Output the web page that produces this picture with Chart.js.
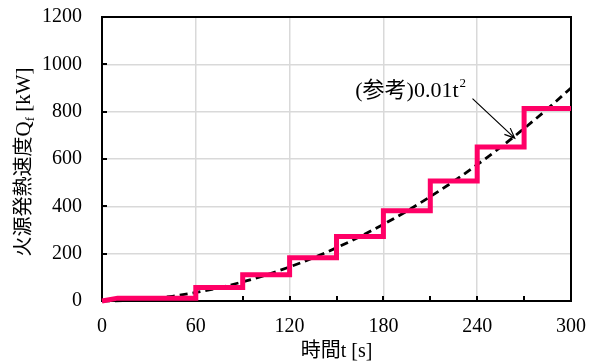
<!DOCTYPE html>
<html>
<head>
<meta charset="utf-8">
<script src="https://cdn.jsdelivr.net/npm/chart.js@4/dist/chart.umd.min.js"></script>
<style>
  html, body { margin: 0; padding: 0; background: #fff; }
  #wrap { width: 600px; height: 363px; }
</style>
</head>
<body>
<div id="wrap"><canvas id="heatChart" width="600" height="363"></canvas></div>
<script>
        // step input (火源発熱速度)
        const stepT = [0, 10, 60, 60, 90, 90, 120, 120, 150, 150, 180, 180, 210, 210, 240, 240, 270, 270, 300];
        const stepQ = [0, 12, 12, 57, 57, 111, 111, 183, 183, 273, 273, 381, 381, 507, 507, 651, 651, 813, 813];

        const refT = [0, 15, 30, 45, 60, 75, 90, 105, 120, 135, 150, 165, 180, 195, 210, 225, 240, 255, 270, 285, 300];
        const refQ = [0, 2, 9, 20, 36, 56, 81, 110, 144, 182, 225, 272, 324, 380, 441, 506, 576, 650, 729, 812, 900];

        const xTicks = [0, 60, 120, 180, 240, 300];
        const xMinorTicks = [30, 90, 150, 210, 270];
        const yTicks = [0, 200, 400, 600, 800, 1000, 1200];

        const serif = '"Liberation Serif", "Noto Sans CJK JP", serif';
        const jp = '"Noto Sans CJK JP", "Liberation Serif", sans-serif';

        const boxAndLabels = {
            id: 'boxAndLabels',
            beforeDatasetsDraw(chart) {
                const ctx = chart.ctx;
                const a = chart.chartArea;
                const xs = chart.scales.x;
                const ys = chart.scales.y;
                ctx.save();
                ctx.strokeStyle = '#000';
                ctx.lineWidth = 2;
                // inward ticks
                ctx.beginPath();
                xTicks.concat(xMinorTicks).forEach(v => {
                    const px = Math.round(xs.getPixelForValue(v));
                    ctx.moveTo(px, a.bottom);
                    ctx.lineTo(px, a.bottom - 5);
                });
                yTicks.forEach(v => {
                    const py = Math.round(ys.getPixelForValue(v));
                    ctx.moveTo(a.left, py);
                    ctx.lineTo(a.left + 5, py);
                });
                ctx.stroke();
                // frame
                ctx.strokeRect(a.left, a.top, a.right - a.left, a.bottom - a.top);
                ctx.restore();
            },
            afterDraw(chart) {
                const ctx = chart.ctx;
                const a = chart.chartArea;
                const xs = chart.scales.x;
                const ys = chart.scales.y;
                ctx.save();
                ctx.fillStyle = '#000';
                ctx.textBaseline = 'alphabetic';

                // x title
                ctx.textAlign = 'center';
                ctx.font = '20px ' + serif;
                ctx.fillText('時間t [s]', (a.left + a.right) / 2, 357);

                // y title with subscript
                ctx.save();
                ctx.translate(30, 162);
                ctx.rotate(-Math.PI / 2);
                ctx.textAlign = 'left';
                const p1 = '火源発熱速度';
                const p2 = 'Q';
                const p3 = ' [kW]';
                ctx.font = '20px ' + jp;
                const w1 = ctx.measureText(p1).width;
                ctx.font = '21px ' + serif;
                const w2 = ctx.measureText(p2).width;
                const w3 = ctx.measureText(p3).width;
                ctx.font = '13px ' + serif;
                const wf = ctx.measureText('f').width;
                let x0 = -(w1 + w2 + wf + w3) / 2;
                ctx.font = '20px ' + jp;
                ctx.fillText(p1, x0, 0);
                x0 += w1;
                ctx.font = '21px ' + serif;
                ctx.fillText(p2, x0, 0);
                x0 += w2;
                ctx.font = '13px ' + serif;
                ctx.fillText('f', x0, 4);
                x0 += wf;
                ctx.font = '21px ' + serif;
                ctx.fillText(p3, x0, 0);
                ctx.restore();

                // annotation
                const tx = xs.getPixelForValue(162);
                const ty = ys.getPixelForValue(860);
                ctx.textAlign = 'left';
                ctx.font = '22px ' + serif;
                ctx.fillText('(参考)0.01t', tx, ty);
                const tw = ctx.measureText('(参考)0.01t').width;
                ctx.font = '13px ' + serif;
                ctx.fillText('2', tx + tw + 1, ty - 10);

                const sx = xs.getPixelForValue(237), sy = ys.getPixelForValue(855);
                const ex = xs.getPixelForValue(264), ey = ys.getPixelForValue(688);
                ctx.strokeStyle = '#000';
                ctx.lineWidth = 1.2;
                ctx.beginPath();
                ctx.moveTo(sx, sy);
                ctx.lineTo(ex, ey);
                const ang = Math.atan2(ey - sy, ex - sx);
                const hl = 11;
                ctx.moveTo(ex - hl * Math.cos(ang - 0.4), ey - hl * Math.sin(ang - 0.4));
                ctx.lineTo(ex, ey);
                ctx.lineTo(ex - hl * Math.cos(ang + 0.4), ey - hl * Math.sin(ang + 0.4));
                ctx.stroke();
                ctx.restore();
            }
        };

        const data = {
            datasets: [{
                label: '火源発熱速度',
                data: stepT.map((t, i) => ({ x: t, y: stepQ[i] })),
                borderColor: '#FF0066',
                borderWidth: 5,
                pointRadius: 0,
                fill: false,
                tension: 0,
                clip: false
            }, {
                label: '(参考)0.01t2',
                data: refT.map((t, i) => ({ x: t, y: refQ[i] })),
                borderColor: '#000',
                borderWidth: 2.8,
                borderDash: [8, 5],
                pointRadius: 0,
                fill: false,
                cubicInterpolationMode: 'monotone',
                clip: false
            }]
        };

        const config = {
            type: 'line',
            data: data,
            options: {
                responsive: false,
                animation: false,
                layout: { padding: { top: 17, right: 29, left: 0, bottom: 0 } },
                plugins: { legend: { display: false }, tooltip: { enabled: false } },
                scales: {
                    x: {
                        type: 'linear',
                        min: 0,
                        max: 300,
                        afterBuildTicks: s => { s.ticks = xTicks.map(v => ({ value: v })); },
                        afterFit: s => { s.height = 62; s.paddingLeft = 0; s.paddingRight = 0; },
                        grid: { color: '#d9d9d9', lineWidth: 1.5, drawTicks: false },
                        border: { display: false },
                        ticks: { color: '#000', padding: 14, maxRotation: 0, callback: v => String(v), font: { family: serif, size: 20 } }
                    },
                    y: {
                        min: 0,
                        max: 1200,
                        afterBuildTicks: s => { s.ticks = yTicks.map(v => ({ value: v })); },
                        afterFit: s => { s.width = 102; s.paddingTop = 0; s.paddingBottom = 0; },
                        grid: { color: '#d9d9d9', lineWidth: 1.5, drawTicks: false },
                        border: { display: false },
                        ticks: { color: '#000', padding: 20, callback: v => String(v), font: { family: serif, size: 20 } }
                    }
                }
            },
            plugins: [boxAndLabels]
        };

        const myChart = new Chart(
            document.getElementById('heatChart'),
            config
        );
</script>
</body>
</html>
